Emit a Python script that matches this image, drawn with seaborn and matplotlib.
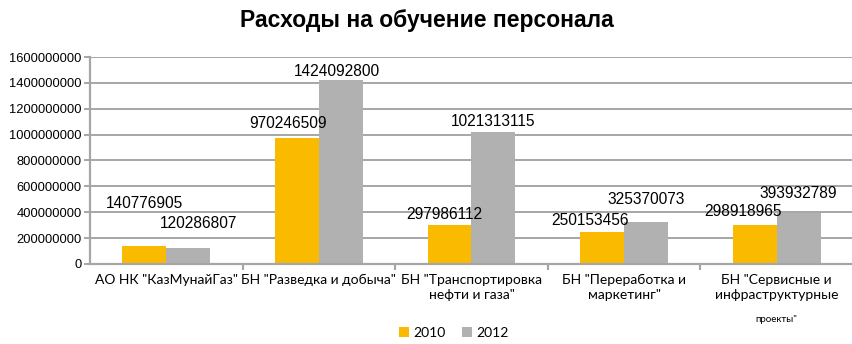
import matplotlib
matplotlib.use("Agg")
import matplotlib.pyplot as plt
import seaborn as sns
import pandas as pd
from matplotlib.ticker import FixedLocator

categories = [
    'АО НК "КазМунайГаз"',
    'БН "Разведка и добыча"',
    'БН "Транспортировка\nнефти и газа"',
    'БН "Переработка и\nмаркетинг"',
    'БН "Сервисные и\nинфраструктурные',
]
last_label_tail = 'проекты"'
years = ["2010", "2012"]
values_2010 = [140776905, 970246509, 297986112, 250153456, 298918965]
values_2012 = [120286807, 1424092800, 1021313115, 325370073, 393932789]
title = "Расходы на обучение персонала"

# label offsets in pixels (dx, dy) relative to the top centre of each bar
offsets_2010 = [(0, 42), (-9, 15), (-5, 11), (-12, 11), (-12, 14)]
offsets_2012 = [(10, 25), (-4, 8), (0, 10), (0, 22), (0, 20)]

df = pd.DataFrame({
    "category": categories * 2,
    "year": [years[0]] * 5 + [years[1]] * 5,
    "value": values_2010 + values_2012,
})

sns.set_theme(style="white")
plt.rcParams["font.family"] = ["Liberation Sans", "DejaVu Sans"]
plt.rcParams["text.color"] = "black"
plt.rcParams["xtick.color"] = "black"
plt.rcParams["ytick.color"] = "black"
plt.rcParams["xtick.labelcolor"] = "black"
plt.rcParams["ytick.labelcolor"] = "black"

fig = plt.figure(figsize=(8.53, 3.44), dpi=100)
ax = fig.add_axes([0.1055, 0.2326, 0.8945, 0.6017])

palette = {"2010": "#FABA00", "2012": "#B1B1B1"}
sns.barplot(data=df, x="category", y="value", hue="year", palette=palette,
            width=0.575, saturation=1, ax=ax, order=categories, hue_order=years,
            edgecolor="none", linewidth=0)

ax.set_ylim(0, 1600000000)
ax.set_xlim(-0.5, 4.5)
ax.set_yticks(range(0, 1600000001, 200000000))
ax.set_yticklabels([str(v) for v in range(0, 1600000001, 200000000)], fontsize=9.3)
ax.yaxis.grid(True, color="#A6A6A6", linewidth=1.4)
ax.set_axisbelow(True)
ax.set_xlabel("")
ax.set_ylabel("")

for side in ["top", "right"]:
    ax.spines[side].set_visible(False)
for side in ["left", "bottom"]:
    ax.spines[side].set_color("#A6A6A6")
    ax.spines[side].set_linewidth(1.6)

ax.tick_params(axis="y", which="major", length=4, width=1.4, color="#A6A6A6", pad=2, left=True)
ax.tick_params(axis="x", which="major", length=0, pad=7)
ax.xaxis.set_minor_locator(FixedLocator([0.5, 1.5, 2.5, 3.5]))
ax.tick_params(axis="x", which="minor", length=4, width=1.6, color="#A6A6A6", bottom=True)
for lbl in ax.get_xticklabels():
    lbl.set_fontfamily(["Lato", "DejaVu Sans"])
    lbl.set_fontsize(10)
    lbl.set_linespacing(1.35)
    lbl.set_verticalalignment("top")

# smaller final line of the last category label
ax.annotate(last_label_tail, xy=(4, 0), xycoords=("data", "axes fraction"),
            xytext=(0, -51), textcoords="offset pixels", ha="center", va="top",
            fontsize=7, fontfamily=["Lato", "DejaVu Sans"])

# value labels
for container, offs in zip(ax.containers, [offsets_2010, offsets_2012]):
    for bar, (dx, dy) in zip(container, offs):
        h = bar.get_height()
        ax.annotate(f"{int(round(h))}", xy=(bar.get_x() + bar.get_width() / 2, h),
                    xytext=(dx, dy), textcoords="offset pixels",
                    ha="center", va="center", fontsize=11.2, color="black")

leg = ax.legend(loc="center", bbox_to_anchor=(0.477, -0.333), ncol=2, frameon=False,
                handlelength=0.7, handleheight=0.7, handletextpad=0.3, columnspacing=1.2,
                prop={"family": ["Lato", "DejaVu Sans"], "size": 10})

fig.text(0.5, 0.94, title, ha="center", va="center", fontsize=16.5, fontweight="bold",
         color="black")

fig.savefig("out.png", dpi=100)
